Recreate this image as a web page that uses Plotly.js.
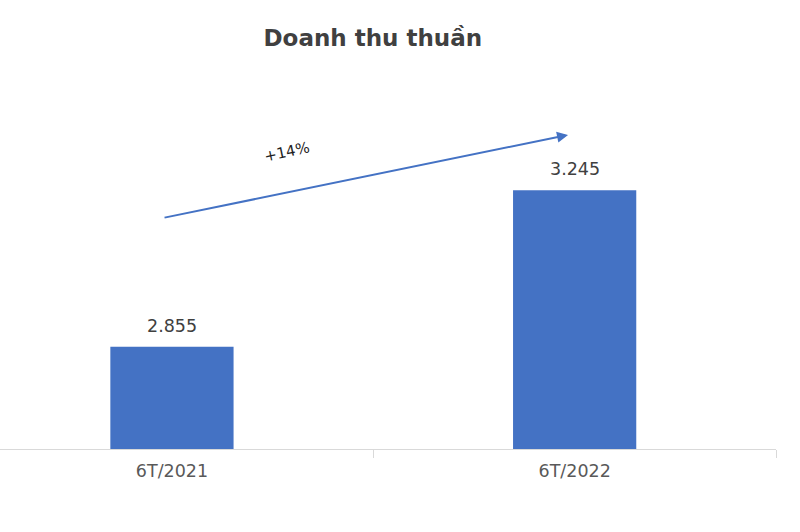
<!DOCTYPE html>
<html>
<head>
<meta charset="utf-8">
<script src="https://cdn.plot.ly/plotly-3.0.1.min.js"></script>
<style>
  html, body { margin: 0; padding: 0; background: #fff; }
  #chart { width: 800px; height: 532px; }
</style>
</head>
<body>
<div id="chart"></div>
<script>
// Doanh thu thuần (nghìn tỷ đồng)
const categories = ["6T/2021", "6T/2022"];
const revenue = [2.855, 3.245];
const revenueLabels = ["2.855", "3.245"];
const growthLabel = "+14%";

const barColor = "#4472C4";
const textColor = "#404040";
const font = "DejaVu Sans, Verdana, sans-serif";

const data = [{
  type: "bar",
  x: categories,
  y: revenue,
  width: 0.306,
  marker: { color: barColor },
  hoverinfo: "x+y",
}];

// nhãn giá trị trên cột
const valueAnnotations = categories.map((c, i) => ({
  x: c,
  y: revenue[i],
  xref: "x",
  yref: "y",
  text: revenueLabels[i],
  showarrow: false,
  yanchor: "bottom",
  yshift: 9,
  font: { family: font, size: 17.5, color: textColor },
}));

// mũi tên tăng trưởng
const growthArrow = {
  xref: "paper",
  yref: "paper",
  x: 0.732,
  y: 0.870,
  ax: -405,
  ay: 83,
  text: "",
  showarrow: true,
  arrowhead: 2,
  arrowsize: 1.1,
  arrowwidth: 2,
  arrowcolor: barColor,
};

const growthText = {
  xref: "paper",
  yref: "paper",
  x: 0.370,
  y: 0.866,
  text: growthLabel,
  showarrow: false,
  textangle: -12,
  font: { family: font, size: 15, color: "#1f1f1f" },
};

const layout = {
  width: 800,
  height: 532,
  margin: { l: 0, r: 24, t: 88, b: 83 },
  paper_bgcolor: "#fff",
  plot_bgcolor: "#fff",
  showlegend: false,
  title: {
    text: "<b>Doanh thu thuần</b>",
    xref: "container",
    yref: "container",
    x: 0.466,
    xanchor: "center",
    y: 0.929,
    yanchor: "middle",
    font: { family: font, size: 23, color: "#404040" },
  },
  xaxis: {
    type: "category",
    range: [-0.427, 1.5],
    showline: true,
    linecolor: "#d9d9d9",
    linewidth: 1,
    ticks: "outside",
    tickson: "boundaries",
    ticklen: 8,
    tickcolor: "#d9d9d9",
    ticklabelstandoff: 6,
    showgrid: false,
    tickfont: { family: font, size: 17.5, color: "#595959" },
    fixedrange: true,
  },
  yaxis: {
    range: [2.6, 3.5],
    visible: false,
    showgrid: false,
    zeroline: false,
    fixedrange: true,
  },
  annotations: [...valueAnnotations, growthArrow, growthText],
};

Plotly.newPlot("chart", data, layout, { displayModeBar: false, staticPlot: true });
</script>
</body>
</html>
